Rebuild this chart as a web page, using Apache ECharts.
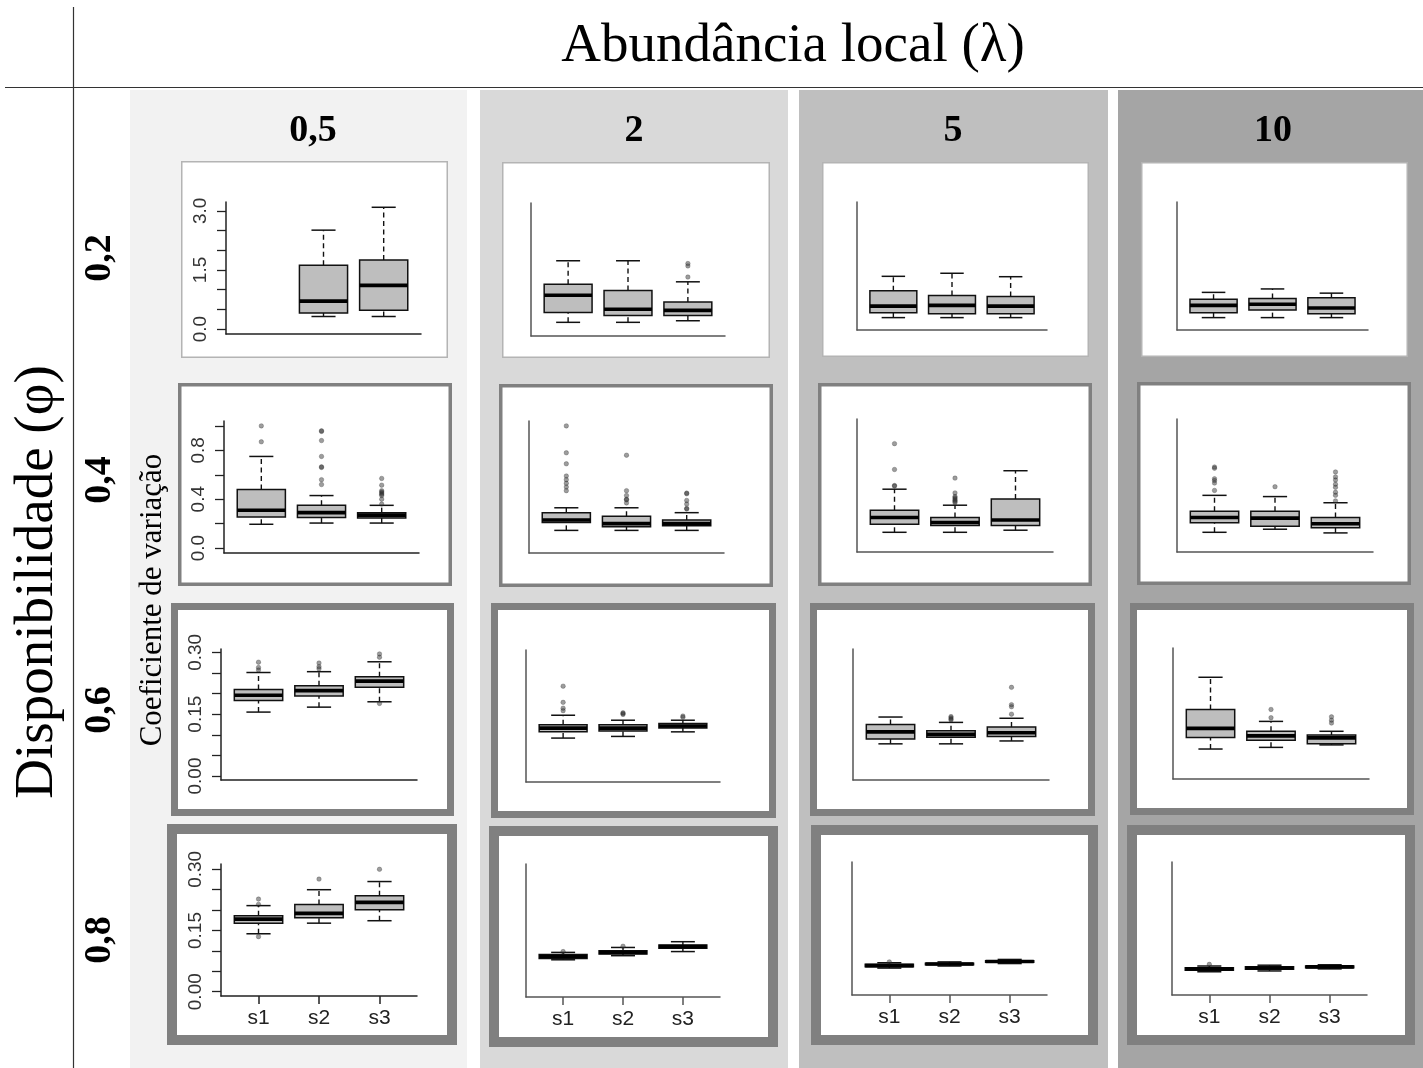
<!DOCTYPE html>
<html><head><meta charset="utf-8">
<script src="https://cdn.jsdelivr.net/npm/echarts@6/dist/echarts.min.js"></script>
<style>html,body{margin:0;padding:0;background:#fff}#c{width:1423px;height:1068px}</style>
</head><body><div id="c"></div>
<script>
// ---------------- DATA ----------------
const categories = ['s1', 's2', 's3'];
const lambdaLabels = ['0,5', '2', '5', '10'];
const phiLabels = ['0,2', '0,4', '0,6', '0,8'];
const titleTop = 'Abundância local (λ)';
const titleLeft = 'Disponibilidade (φ)';
const yTitle = 'Coeficiente de variação';

// y tick values / labelled ticks per row (phi)
const yTicks_r1 = [0, 0.5, 1, 1.5, 2, 2.5, 3];
const yLabels_r1 = [0, 1.5, 3];
const yTicks_r2 = [0, 0.2, 0.4, 0.6, 0.8, 1.0];
const yLabels_r2 = [0, 0.4, 0.8];
const yTicks_r3 = [0, 0.05, 0.1, 0.15, 0.2, 0.25, 0.3];
const yLabels_r3 = [0, 0.15, 0.3];
const yTicks_r4 = [0, 0.05, 0.1, 0.15, 0.2, 0.25, 0.3];
const yLabels_r4 = [0, 0.15, 0.3];
const yExtent_r1 = [-0.124, 3.224];
const yExtent_r2 = [-0.04, 1.04];
const yExtent_r3 = [-0.0097, 0.308];
const yExtent_r4 = [-0.0105, 0.313];

// box stats per category: [lower whisker, Q1, median, Q3, upper whisker]
// outliers: [category number, value]
const box_r1c1 = [null, [0.32, 0.41, 0.71, 1.62, 2.51], [0.32, 0.48, 1.11, 1.75, 3.09]];
const out_r1c1 = [];
const box_r1c2 = [[0.22, 0.47, 0.90, 1.18, 1.77], [0.22, 0.39, 0.55, 1.02, 1.77], [0.26, 0.39, 0.52, 0.73, 1.24]];
const out_r1c2 = [[3, 1.36], [3, 1.64], [3, 1.70]];
const box_r1c3 = [[0.20, 0.33, 0.50, 0.90, 1.28], [0.20, 0.30, 0.52, 0.78, 1.36], [0.20, 0.30, 0.50, 0.75, 1.27]];
const out_r1c3 = [];
const box_r1c4 = [[0.20, 0.33, 0.52, 0.68, 0.86], [0.20, 0.40, 0.55, 0.70, 0.95], [0.20, 0.30, 0.45, 0.72, 0.84]];
const out_r1c4 = [];

const box_r2c1 = [[0.195, 0.255, 0.31, 0.48, 0.75], [0.205, 0.25, 0.29, 0.35, 0.43], [0.205, 0.247, 0.27, 0.29, 0.35]];
const out_r2c1 = [[1, 1.00], [1, 0.87], [2, 0.96], [2, 0.955], [2, 0.88], [2, 0.75], [2, 0.665], [2, 0.66], [2, 0.56], [2, 0.52],
  [3, 0.57], [3, 0.515], [3, 0.47], [3, 0.46], [3, 0.45], [3, 0.44], [3, 0.43], [3, 0.40], [3, 0.36]];
const box_r2c2 = [[0.145, 0.21, 0.23, 0.29, 0.33], [0.145, 0.175, 0.20, 0.26, 0.33], [0.145, 0.183, 0.20, 0.23, 0.29]];
const out_r2c2 = [[1, 1.00], [1, 0.78], [1, 0.69], [1, 0.59], [1, 0.56], [1, 0.53], [1, 0.50], [1, 0.47],
  [2, 0.76], [2, 0.47], [2, 0.43], [2, 0.40], [2, 0.395], [2, 0.37], [3, 0.45], [3, 0.445], [3, 0.39], [3, 0.36], [3, 0.325], [3, 0.32]];
const box_r2c3 = [[0.12, 0.186, 0.24, 0.30, 0.47], [0.12, 0.175, 0.20, 0.24, 0.34], [0.137, 0.175, 0.22, 0.39, 0.62]];
const out_r2c3 = [[1, 0.84], [1, 0.63], [1, 0.50], [1, 0.495], [2, 0.56], [2, 0.44], [2, 0.41], [2, 0.40], [2, 0.39], [2, 0.38], [2, 0.37], [2, 0.36]];
const box_r2c4 = [[0.12, 0.197, 0.24, 0.29, 0.42], [0.145, 0.17, 0.235, 0.29, 0.41], [0.115, 0.156, 0.19, 0.24, 0.36]];
const out_r2c4 = [[1, 0.65], [1, 0.64], [1, 0.555], [1, 0.54], [1, 0.52], [1, 0.46], [2, 0.49],
  [3, 0.61], [3, 0.57], [3, 0.545], [3, 0.51], [3, 0.485], [3, 0.445], [3, 0.42], [3, 0.375]];

const box_r3c1 = [[0.155, 0.183, 0.196, 0.210, 0.251], [0.167, 0.194, 0.207, 0.219, 0.253], [0.180, 0.215, 0.230, 0.241, 0.277]];
const out_r3c1 = [[1, 0.276], [1, 0.263], [1, 0.257], [2, 0.274], [2, 0.265], [2, 0.26], [3, 0.296], [3, 0.288], [3, 0.176]];
const box_r3c2 = [[0.096, 0.111, 0.120, 0.128, 0.151], [0.100, 0.113, 0.120, 0.128, 0.139], [0.111, 0.120, 0.125, 0.131, 0.139]];
const out_r3c2 = [[1, 0.221], [1, 0.182], [1, 0.168], [1, 0.162], [2, 0.155], [2, 0.153], [2, 0.157], [3, 0.149], [3, 0.146]];
const box_r3c3 = [[0.078, 0.090, 0.107, 0.125, 0.143], [0.078, 0.094, 0.101, 0.110, 0.130], [0.085, 0.096, 0.105, 0.119, 0.140]];
const out_r3c3 = [[2, 0.144], [2, 0.141], [2, 0.138], [2, 0.136], [3, 0.215], [3, 0.173], [3, 0.168], [3, 0.150]];
const box_r3c4 = [[0.063, 0.091, 0.113, 0.159, 0.237], [0.067, 0.084, 0.095, 0.106, 0.130], [0.073, 0.076, 0.090, 0.097, 0.106]];
const out_r3c4 = [[2, 0.159], [2, 0.139], [3, 0.141], [3, 0.133], [3, 0.126]];

const box_r4c1 = [[0.142, 0.168, 0.178, 0.186, 0.211], [0.168, 0.181, 0.192, 0.214, 0.25], [0.174, 0.201, 0.219, 0.235, 0.27]];
const out_r4c1 = [[1, 0.227], [1, 0.214], [1, 0.135], [2, 0.276], [3, 0.30]];
const box_r4c2 = [[0.080, 0.083, 0.088, 0.093, 0.098], [0.090, 0.094, 0.098, 0.102, 0.110], [0.100, 0.108, 0.112, 0.116, 0.124]];
const out_r4c2 = [[1, 0.100], [2, 0.113]];
const box_r4c3 = [[0.055, 0.058, 0.061, 0.064, 0.068], [0.060, 0.063, 0.065, 0.067, 0.070], [0.066, 0.069, 0.071, 0.073, 0.076]];
const out_r4c3 = [[1, 0.070]];
const box_r4c4 = [[0.046, 0.050, 0.053, 0.056, 0.060], [0.048, 0.052, 0.055, 0.058, 0.062], [0.053, 0.056, 0.058, 0.060, 0.063]];
const out_r4c4 = [[1, 0.064]];

// ---------------- LAYOUT ----------------
const boxes = [
  [box_r1c1, box_r1c2, box_r1c3, box_r1c4],
  [box_r2c1, box_r2c2, box_r2c3, box_r2c4],
  [box_r3c1, box_r3c2, box_r3c3, box_r3c4],
  [box_r4c1, box_r4c2, box_r4c3, box_r4c4]
];
const outs = [
  [out_r1c1, out_r1c2, out_r1c3, out_r1c4],
  [out_r2c1, out_r2c2, out_r2c3, out_r2c4],
  [out_r3c1, out_r3c2, out_r3c3, out_r3c4],
  [out_r4c1, out_r4c2, out_r4c3, out_r4c4]
];
const yTicks = [yTicks_r1, yTicks_r2, yTicks_r3, yTicks_r4];
const yLabels = [yLabels_r1, yLabels_r2, yLabels_r3, yLabels_r4];
const yExtent = [yExtent_r1, yExtent_r2, yExtent_r3, yExtent_r4];
const yDigits = [1, 1, 2, 2];

// plot regions [left, top, right, bottom]
const gridRects = [
  [[226, 202, 421, 334], [531, 203, 725, 336], [857, 202, 1047, 330], [1177, 202, 1368, 330]],
  [[224, 421, 419, 553], [529, 421, 724, 553], [857, 419, 1053, 552], [1177, 419, 1373, 552]],
  [[221, 649, 417, 780], [526, 650, 720, 782], [853, 649, 1049, 780], [1173, 648, 1369, 779]],
  [[221, 864, 417, 996], [526, 864, 720, 997], [852, 862, 1047, 995], [1172, 862, 1367, 995]]
];
// panel outer boxes [x0, y0, x1, y1]
const panelBoxes = [
  [[181, 161, 448, 358], [502, 162, 770, 358], [822, 162, 1089, 357], [1141, 162, 1408, 357]],
  [[178, 383, 452, 586], [499, 384, 773, 587], [818, 383, 1092, 586], [1137, 382, 1411, 585]],
  [[171, 603, 454, 816], [491, 603, 776, 818], [810, 603, 1095, 816], [1130, 603, 1414, 815]],
  [[167, 824, 457, 1045], [489, 826, 778, 1047], [811, 825, 1098, 1045], [1127, 825, 1415, 1045]]
];
const panelBorderW = [1.5, 3.5, 7, 10];
const panelBorderC = ['#b4b4b4', '#808080', '#808080', '#808080'];
const colBg = [[130, 467, '#f2f2f2'], [480, 788, '#d9d9d9'], [799, 1108, '#bfbfbf'], [1118, 1423, '#a5a5a5']];
const colCenters = [313, 634, 953, 1273];
const rowCenters = [258, 480, 710, 940];

const serif = '"Liberation Serif", "Times New Roman", serif';
const sans = '"Liberation Sans", Arial, sans-serif';

function renderBox(params, api) {
  const x = api.value(0);
  const pLow = api.coord([x, api.value(1)]);
  const pQ1 = api.coord([x, api.value(2)]);
  const pMed = api.coord([x, api.value(3)]);
  const pQ3 = api.coord([x, api.value(4)]);
  const pHigh = api.coord([x, api.value(5)]);
  const hw = api.size([0.4, 0])[0];
  const sw = hw * 0.5;
  const cx = pMed[0];
  const dash = { stroke: '#111', lineWidth: 1.4, lineDash: [5, 3.5] };
  const solid = { stroke: '#111', lineWidth: 1.5 };
  return {
    type: 'group', children: [
      { type: 'line', shape: { x1: cx, y1: pQ3[1], x2: cx, y2: pHigh[1] }, style: dash },
      { type: 'line', shape: { x1: cx, y1: pLow[1], x2: cx, y2: pQ1[1] }, style: dash },
      { type: 'line', shape: { x1: cx - sw, y1: pHigh[1], x2: cx + sw, y2: pHigh[1] }, style: solid },
      { type: 'line', shape: { x1: cx - sw, y1: pLow[1], x2: cx + sw, y2: pLow[1] }, style: solid },
      { type: 'rect', shape: { x: cx - hw, y: pQ3[1], width: 2 * hw, height: pQ1[1] - pQ3[1] }, style: { fill: '#bebebe', stroke: '#111', lineWidth: 1.5 } },
      { type: 'line', shape: { x1: cx - hw, y1: pMed[1], x2: cx + hw, y2: pMed[1] }, style: { stroke: '#000', lineWidth: 3.6 } }
    ]
  };
}

const grid = [], xAxis = [], yAxis = [], series = [], graphic = [];

// backgrounds
colBg.forEach(c => graphic.push({ type: 'rect', z: -10, shape: { x: c[0], y: 90, width: c[1] - c[0], height: 1068 - 90 }, style: { fill: c[2] } }));
graphic.push({ type: 'line', z: -5, shape: { x1: 73.5, y1: 7, x2: 73.5, y2: 1068 }, style: { stroke: '#333', lineWidth: 1.2 } });
graphic.push({ type: 'line', z: -5, shape: { x1: 5, y1: 87.5, x2: 1423, y2: 87.5 }, style: { stroke: '#333', lineWidth: 1.2 } });

for (let r = 0; r < 4; r++) {
  for (let c = 0; c < 4; c++) {
    const pb = panelBoxes[r][c], w = panelBorderW[r];
    graphic.push({ type: 'rect', z: -8, shape: { x: pb[0] + w / 2, y: pb[1] + w / 2, width: pb[2] - pb[0] - w, height: pb[3] - pb[1] - w },
      style: { fill: '#fff', stroke: panelBorderC[r], lineWidth: w } });
    const g = gridRects[r][c];
    const idx = grid.length;
    grid.push({ left: g[0], top: g[1], width: g[2] - g[0], height: g[3] - g[1], containLabel: false });
    const axisCol = c === 0 ? '#222' : '#555';
    xAxis.push({
      type: 'value', gridIndex: idx, min: 0.38, max: 3.62, z: 5,
      splitLine: { show: false },
      axisLine: { show: true, onZero: false, lineStyle: { color: axisCol, width: 1.5 } },
      axisTick: { show: r === 3, customValues: [1, 2, 3], length: 8, lineStyle: { color: axisCol, width: 1.5 } },
      axisLabel: { show: r === 3, customValues: [1, 2, 3], formatter: v => categories[Math.round(v) - 1], fontSize: 21, fontFamily: sans, color: '#222', margin: 12 }
    });
    yAxis.push({
      type: 'value', gridIndex: idx, min: yExtent[r][0], max: yExtent[r][1], z: 5,
      splitLine: { show: false },
      axisLine: { show: true, onZero: false, lineStyle: { color: axisCol, width: 1.5 } },
      axisTick: { show: c === 0, customValues: yTicks[r], length: 9, lineStyle: { color: '#222', width: 1.3 } },
      axisLabel: { show: c === 0, customValues: yLabels[r], rotate: 90, formatter: v => v.toFixed(yDigits[r]), fontSize: 19, fontFamily: sans, color: '#333', margin: 16 }
    });
    const bdata = [];
    boxes[r][c].forEach((b, i) => { if (b) bdata.push([i + 1].concat(b)); });
    series.push({ type: 'custom', xAxisIndex: idx, yAxisIndex: idx, renderItem: renderBox, data: bdata, z: 3, clip: false,
      encode: { x: 0, y: [1, 2, 3, 4, 5] } });
    series.push({ type: 'scatter', xAxisIndex: idx, yAxisIndex: idx, data: outs[r][c], symbol: 'circle', symbolSize: 4.5, z: 4,
      itemStyle: { color: 'rgba(50,50,50,0.6)', borderColor: 'rgba(30,30,30,0.55)', borderWidth: 0.6 } });
  }
}

// texts
graphic.push({ type: 'text', z: 10, x: 793, y: 47, style: { text: titleTop, font: '55px ' + serif, fill: '#000', textAlign: 'center', textVerticalAlign: 'middle' } });
graphic.push({ type: 'text', z: 10, x: 38, y: 582, rotation: Math.PI / 2, style: { text: titleLeft, font: '55px ' + serif, fill: '#000', textAlign: 'center', textVerticalAlign: 'middle' } });
lambdaLabels.forEach((t, i) => graphic.push({ type: 'text', z: 10, x: colCenters[i], y: 131, style: { text: t, font: 'bold 38px ' + serif, fill: '#000', textAlign: 'center', textVerticalAlign: 'middle' } }));
phiLabels.forEach((t, i) => graphic.push({ type: 'text', z: 10, x: 100, y: rowCenters[i], rotation: Math.PI / 2, style: { text: t, font: 'bold 38px ' + serif, fill: '#000', textAlign: 'center', textVerticalAlign: 'middle' } }));
graphic.push({ type: 'text', z: 10, x: 153, y: 600, rotation: Math.PI / 2, style: { text: yTitle, font: '31px ' + serif, fill: '#000', textAlign: 'center', textVerticalAlign: 'middle' } });

const chart = echarts.init(document.getElementById('c'), null, { renderer: 'canvas' });
chart.setOption({ animation: false, backgroundColor: '#fff', grid, xAxis, yAxis, series, graphic });
</script></body></html>
